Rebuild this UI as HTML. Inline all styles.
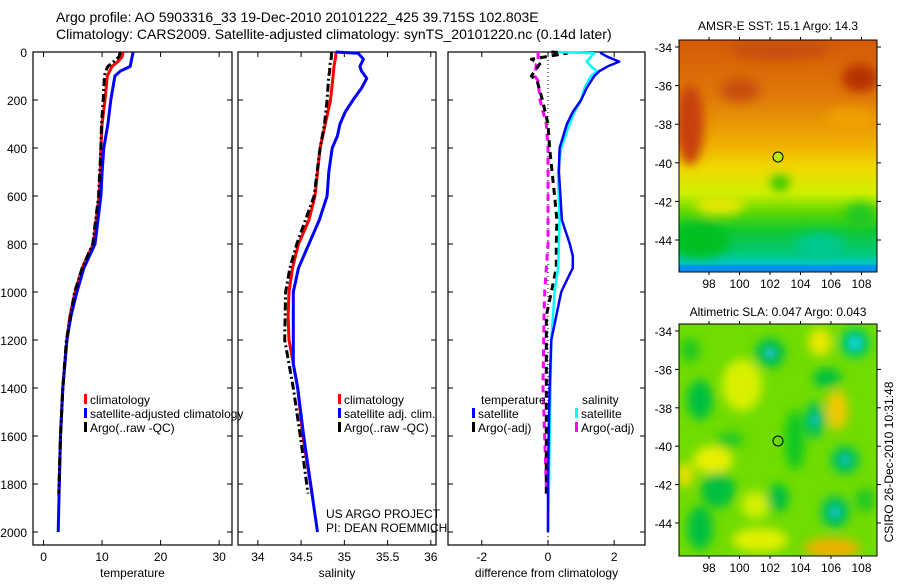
<!DOCTYPE html>
<html><head><meta charset="utf-8"><style>
body{margin:0;background:#fff;width:900px;height:580px;overflow:hidden}
svg text{font-family:"Liberation Sans",sans-serif;fill:#000}
</style></head><body>
<svg id="chart" width="900" height="580" xmlns="http://www.w3.org/2000/svg">
<defs>
<filter id="blur6" x="-50%" y="-50%" width="200%" height="200%"><feGaussianBlur stdDeviation="5"/></filter>
<filter id="blur3" x="-50%" y="-50%" width="200%" height="200%"><feGaussianBlur stdDeviation="3"/></filter>
<clipPath id="c1"><rect x="679" y="40" width="198" height="232"/></clipPath>
<clipPath id="c2"><rect x="679" y="324" width="198" height="232"/></clipPath>
<linearGradient id="g1" x1="0" y1="0" x2="0" y2="1">
<stop offset="0" stop-color="#d45a08"/><stop offset="0.25" stop-color="#e07a08"/>
<stop offset="0.45" stop-color="#f0b000"/><stop offset="0.55" stop-color="#f0d800"/>
<stop offset="0.66" stop-color="#d0f000"/><stop offset="0.74" stop-color="#60d800"/>
<stop offset="0.82" stop-color="#10c830"/><stop offset="0.92" stop-color="#00c878"/>
<stop offset="0.96" stop-color="#00c8c0"/><stop offset="1" stop-color="#0080ff"/>
</linearGradient>
</defs>
<text x="56" y="22" font-size="14">Argo profile: AO 5903316_33 19-Dec-2010 20101222_425 39.715S 102.803E</text>
<text x="56" y="39" font-size="14">Climatology: CARS2009. Satellite-adjusted climatology: synTS_20101220.nc (0.14d later)</text>
<g id="panels"></g>

<g>
<text x="778" y="30" font-size="12" text-anchor="middle">AMSR-E SST: 15.1 Argo: 14.3</text>
<g clip-path="url(#c1)">
<rect x="679" y="40" width="198" height="232" fill="url(#g1)"/>
<g filter="url(#blur6)">
<ellipse cx="690" cy="125" rx="14" ry="40" fill="#c84010"/>
<ellipse cx="860" cy="78" rx="18" ry="14" fill="#b83000"/>
<ellipse cx="740" cy="90" rx="20" ry="12" fill="#c85010"/>
<ellipse cx="780" cy="50" rx="50" ry="10" fill="#c85010"/>
<ellipse cx="850" cy="120" rx="25" ry="12" fill="#f0a000"/>
<ellipse cx="700" cy="240" rx="30" ry="18" fill="#00c020"/>
<ellipse cx="780" cy="183" rx="10" ry="8" fill="#30c800"/>
<ellipse cx="820" cy="245" rx="25" ry="12" fill="#00c890"/>
<ellipse cx="720" cy="205" rx="25" ry="10" fill="#e0e800"/>
<ellipse cx="860" cy="215" rx="15" ry="12" fill="#20c820"/>
</g>
<rect x="679" y="265" width="198" height="7" fill="#0090f0" opacity="0.8"/>
</g>
<rect x="679" y="40" width="198" height="232" fill="none" stroke="#000"/>
<circle cx="778" cy="157" r="5" fill="#b8f000" stroke="#000"/>
</g>

<g>
<text x="778" y="316" font-size="12" text-anchor="middle">Altimetric SLA: 0.047 Argo: 0.043</text>
<g clip-path="url(#c2)">
<rect x="679" y="324" width="198" height="232" fill="#70dc00"/>
<g filter="url(#blur6)">
<ellipse cx="820" cy="342" rx="12" ry="14" fill="#e8e800"/>
<ellipse cx="742" cy="385" rx="20" ry="26" fill="#d8f000"/>
<ellipse cx="837" cy="410" rx="11" ry="20" fill="#f0c800"/>
<ellipse cx="713" cy="460" rx="20" ry="14" fill="#e8f000"/>
<ellipse cx="685" cy="475" rx="8" ry="12" fill="#f0e000"/>
<ellipse cx="760" cy="540" rx="28" ry="12" fill="#e0f000"/>
<ellipse cx="755" cy="505" rx="14" ry="14" fill="#d0f000"/>
<ellipse cx="832" cy="548" rx="28" ry="10" fill="#f0b000"/>
<ellipse cx="770" cy="353" rx="15" ry="15" fill="#00c050"/>
<ellipse cx="855" cy="343" rx="15" ry="15" fill="#00c870"/>
<ellipse cx="700" cy="400" rx="13" ry="20" fill="#00c040"/>
<ellipse cx="827" cy="378" rx="14" ry="10" fill="#00c040"/>
<ellipse cx="815" cy="420" rx="10" ry="18" fill="#00c060"/>
<ellipse cx="845" cy="460" rx="14" ry="14" fill="#00c060"/>
<ellipse cx="718" cy="490" rx="17" ry="18" fill="#00c040"/>
<ellipse cx="778" cy="498" rx="11" ry="14" fill="#00c040"/>
<ellipse cx="835" cy="512" rx="14" ry="16" fill="#00c060"/>
<ellipse cx="700" cy="528" rx="13" ry="22" fill="#00c040"/>
<ellipse cx="795" cy="440" rx="10" ry="30" fill="#10c820"/>
<ellipse cx="730" cy="440" rx="14" ry="8" fill="#20c820"/>
<ellipse cx="865" cy="500" rx="10" ry="12" fill="#20c820"/>
<ellipse cx="690" cy="350" rx="10" ry="12" fill="#20c820"/>
</g>
<g filter="url(#blur3)">
<circle cx="770" cy="353" r="6" fill="#20c0b0"/>
<circle cx="855" cy="343" r="7" fill="#10d0c8"/>
<circle cx="815" cy="420" r="5" fill="#10c0b0"/>
<circle cx="845" cy="460" r="5" fill="#10c0b0"/>
<circle cx="835" cy="512" r="6" fill="#10c0b0"/>
</g>
</g>
<rect x="679" y="324" width="198" height="232" fill="none" stroke="#000"/>
<circle cx="778" cy="441" r="5" fill="none" stroke="#000"/>
</g>
<g id="maptext"></g>
<text transform="translate(893,462) rotate(-90)" font-size="12" text-anchor="middle">CSIRO 26-Dec-2010 10:31:48</text>
</svg>
<script>
const depthsRed = [0,20,40,60,100,200,300,400,500,600,700,800,900,1000,1100,1200,1400,1600,1850];
const tempClim = [13.6,13.4,12.7,11.7,10.9,10.5,10.0,9.8,9.7,9.5,9.0,8.5,6.6,5.4,4.5,4.0,3.3,2.9,2.6];
const depthsBlue = [0,60,80,100,200,300,400,500,600,700,800,900,1000,1100,1200,1400,1600,1800,2000];
const tempSat = [15.3,14.8,13.1,12.2,11.5,11.0,10.3,10.0,9.8,9.3,8.8,6.9,5.7,4.7,4.0,3.3,2.9,2.7,2.5];
const depthsArgo = [0,20,40,60,80,100,200,300,400,600,800,900,1000,1200,1400,1600,1840];
const tempArgo = [13.1,12.9,12.0,11.0,10.6,10.4,10.2,9.9,9.8,9.4,8.4,6.6,5.3,3.9,3.3,2.9,2.6];
const salClim = [34.90,34.90,34.89,34.88,34.87,34.84,34.78,34.72,34.69,34.66,34.59,34.47,34.40,34.36,34.35,34.36,34.46,34.52,34.63];
const depthsSalSat = [0,5,30,60,80,110,150,200,250,300,350,400,500,600,700,800,900,1000,1100,1300,1400,1600,1800,2000];
const salSat = [34.90,35.16,35.22,35.18,35.20,35.26,35.20,35.10,35.01,34.95,34.92,34.86,34.82,34.80,34.71,34.59,34.47,34.41,34.41,34.41,34.46,34.53,34.61,34.69];
const salArgo = [34.85,34.85,34.84,34.83,34.83,34.82,34.80,34.77,34.72,34.65,34.45,34.37,34.32,34.31,34.41,34.49,34.58];
const depthsDiff = [0,5,20,40,60,80,100,150,200,250,300,400,500,700,800,850,900,950,1000,1200,1400,1600,1800,2000];
const diffTempSat = [1.6,1.6,1.8,2.15,1.8,1.55,1.4,1.17,1.0,0.75,0.57,0.35,0.33,0.42,0.66,0.75,0.75,0.57,0.4,0.1,0.05,0.02,0.0,0.0];
const diffSalSat = [0.3,1.4,1.3,1.17,1.3,1.48,1.3,1.1,1.0,0.8,0.65,0.4,0.3,0.35,0.33,0.32,0.3,0.25,0.2,0.1,0.08,0.05,0.03,0.0];
const depthsDiffArgo = [0,5,30,50,100,120,200,300,400,600,700,800,900,1000,1100,1400,1800,1840];
const diffTempArgo = [0.1,0.57,-0.5,-0.25,-0.5,-0.33,-0.17,0.0,0.05,0.2,0.27,0.25,0.25,0.1,-0.05,-0.05,-0.05,-0.05];
const diffSalArgo = [-0.3,-0.3,-0.3,-0.35,-0.4,-0.3,-0.24,-0.05,0.0,0.0,0.0,0.0,-0.05,-0.1,-0.12,-0.15,-0.05,-0.05];
const depthTicks = [0,200,400,600,800,1000,1200,1400,1600,1800,2000];
const tempTicks = [0,10,20,30];
const salTicks = [34,34.5,35,35.5,36];
const diffTicks = [-2,0,2];
const latTicks = [-34,-36,-38,-40,-42,-44];
const lonTicks = [98,100,102,104,106,108];

const NS='http://www.w3.org/2000/svg';
const root=document.getElementById('panels');
const yDepth=p=>52+p*0.24;
function mk(tag,attrs,parent){const e=document.createElementNS(NS,tag);for(const k in attrs)e.setAttribute(k,attrs[k]);(parent||root).appendChild(e);return e;}
function panel(name,x0,x1,xmin,xmax,ticks,label,ylabels){
  const g=mk('g',{});
  
  
  const sx=v=>x0+(v-xmin)/(xmax-xmin)*(x1-x0);
  mk('rect',{x:x0,y:52,width:x1-x0,height:493,fill:'none',stroke:'#000','stroke-width':1.2},g);
  depthTicks.forEach(d=>{const y=yDepth(d);
    mk('line',{x1:x0,x2:x0+5,y1:y,y2:y,stroke:'#000'},g);
    mk('line',{x1:x1,x2:x1-5,y1:y,y2:y,stroke:'#000'},g);
    if(ylabels){const t=mk('text',{x:x0-6,y:y+5,'font-size':12,'text-anchor':'end'},g);t.textContent=d;
      
      }
  });
  ticks.forEach(v=>{const x=sx(v);
    mk('line',{x1:x,x2:x,y1:52,y2:57,stroke:'#000'},g);
    mk('line',{x1:x,x2:x,y1:545,y2:540,stroke:'#000'},g);
    const t=mk('text',{x:x,y:561,'font-size':12,'text-anchor':'middle'},g);t.textContent=v;
    
    
  });
  const t=mk('text',{x:(x0+x1)/2,y:577,'font-size':12,'text-anchor':'middle'},g);t.textContent=label;
  
  
  return {g,sx};
}
function series(P,name,depths,vals,color,dash,w){
  const pts=depths.map((d,i)=>P.sx(vals[i]).toFixed(1)+','+yDepth(d).toFixed(1)).join(' ');
  const l=mk('polyline',{points:pts,fill:'none',stroke:color,'stroke-width':w||3,'stroke-dasharray':dash||'none','stroke-linejoin':'round'},P.g);
  
  
}
function legend(P,x,y,color,text,name){
  mk('rect',{x:x,y:y-10,width:3,height:10,fill:color},P.g);
  const t=mk('text',{x:x+6,y:y,'font-size':12},P.g);t.textContent=text;
  
  
}
const P1=panel('temperature-panel',33,232,-1.8,32.2,tempTicks,'temperature',true);
series(P1,'temp-climatology-line',depthsRed,tempClim,'#f00');
series(P1,'temp-satellite-line',depthsBlue,tempSat,'#00f');
series(P1,'temp-argo-line',depthsArgo,tempArgo,'#000','8,3,2,3');
legend(P1,84,404,'#f00','climatology','legend-climatology');
legend(P1,84,418,'#00f','satellite-adjusted climatology','legend-satellite');
legend(P1,84,432,'#000','Argo(..raw -QC)','legend-argo');

const P2=panel('salinity-panel',238,436,33.77,36.06,salTicks,'salinity',false);
series(P2,'sal-climatology-line',depthsRed,salClim,'#f00');
series(P2,'sal-satellite-line',depthsSalSat,salSat,'#00f');
series(P2,'sal-argo-line',depthsArgo,salArgo,'#000','8,3,2,3');
legend(P2,338,404,'#f00','climatology','legend-climatology');
legend(P2,338,418,'#00f','satellite adj. clim.','legend-satellite');
legend(P2,338,432,'#000','Argo(..raw -QC)','legend-argo');
let t=mk('text',{x:326,y:518,'font-size':12},P2.g);t.textContent='US ARGO PROJECT';


t=mk('text',{x:326,y:532,'font-size':12},P2.g);t.textContent='PI: DEAN ROEMMICH';



const P3=panel('difference-panel',448,645,-3.02,2.93,diffTicks,'difference from climatology',false);
mk('line',{x1:P3.sx(0),x2:P3.sx(0),y1:52,y2:545,stroke:'#000','stroke-dasharray':'1,3'},P3.g);
series(P3,'diff-sal-argo-line',depthsDiffArgo,diffSalArgo,'#f0f','7,5');
series(P3,'diff-temp-argo-line',depthsDiffArgo,diffTempArgo,'#000','7,5');
series(P3,'diff-sal-satellite-line',depthsDiff,diffSalSat,'#0ff',undefined,2.5);
series(P3,'diff-temp-satellite-line',depthsDiff,diffTempSat,'#00f',undefined,2.5);
t=mk('text',{x:481,y:404,'font-size':12},P3.g);t.textContent='temperature';


t=mk('text',{x:582,y:404,'font-size':12},P3.g);t.textContent='salinity';


legend(P3,472,418,'#00f','satellite','legend-temp-satellite');
legend(P3,472,432,'#000','Argo(-adj)','legend-temp-argo');
legend(P3,575,418,'#0ff','satellite','legend-sal-satellite');
legend(P3,575,432,'#f0f','Argo(-adj)','legend-sal-argo');

const mt=document.getElementById('maptext');
const lonX=v=>709+(v-98)*15.25;
[[40,272,47,19.3],[324,556,331,19.2]].forEach(([top,bot,y34,k],mi)=>{
  latTicks.forEach(v=>{const y=y34+(-34-v)*k;
    mk('line',{x1:679,x2:675,y1:y,y2:y,stroke:'#000'},mt);
    mk('line',{x1:877,x2:881,y1:y,y2:y,stroke:'#000'},mt);
    const e=mk('text',{x:672,y:y+5,'font-size':12,'text-anchor':'end'},mt);e.textContent=v;
    
    
  });
  lonTicks.forEach(v=>{const x=lonX(v);
    mk('line',{x1:x,x2:x,y1:top,y2:top-3,stroke:'#000'},mt);
    mk('line',{x1:x,x2:x,y1:bot,y2:bot+3,stroke:'#000'},mt);
    const e=mk('text',{x:x,y:bot+16,'font-size':12,'text-anchor':'middle'},mt);e.textContent=v;
    
    
  });
});
</script>
</body></html>
